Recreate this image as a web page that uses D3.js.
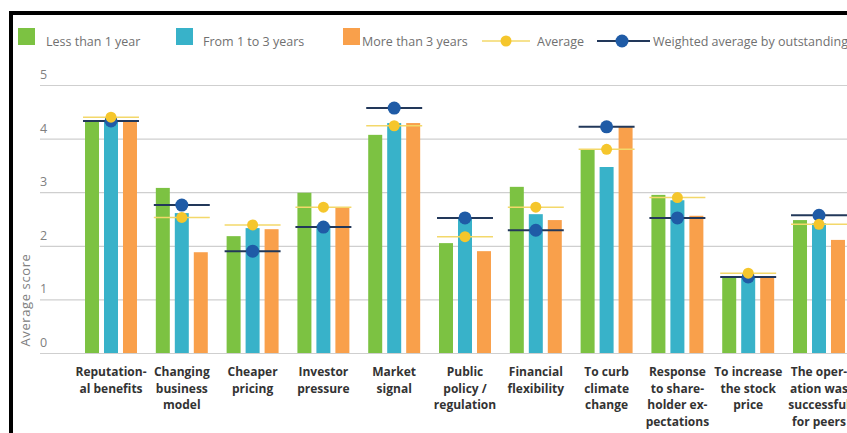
<!DOCTYPE html>
<html>
<head>
<meta charset="utf-8">
<script src="https://cdn.jsdelivr.net/npm/d3@7"></script>
<style>
  body { margin: 0; background: #fff; overflow: hidden; }
  svg { display: block; }
</style>
</head>
<body>
<div id="chart"></div>
<script>
// categories (multi-line labels)
const categories = [
    ['Reputation-', 'al benefits'],
    ['Changing', 'business', 'model'],
    ['Cheaper', 'pricing'],
    ['Investor', 'pressure'],
    ['Market', 'signal'],
    ['Public', 'policy /', 'regulation'],
    ['Financial', 'flexibility'],
    ['To curb', 'climate', 'change'],
    ['Response', 'to share-', 'holder ex-', 'pectations'],
    ['To increase', 'the stock', 'price'],
    ['The oper-', 'ation was', 'successful', 'for peers']
];
const seriesNames = ['Less than 1 year', 'From 1 to 3 years', 'More than 3 years'];

const lessThan1 = [4.32, 3.08, 2.18, 2.99, 4.07, 2.05, 3.10, 3.80, 2.95, 1.42, 2.48];
const from1to3  = [4.31, 2.61, 2.33, 2.38, 4.29, 2.50, 2.59, 3.47, 2.85, 1.40, 2.42];
const moreThan3 = [4.32, 1.88, 2.31, 2.71, 4.29, 1.90, 2.48, 4.22, 2.56, 1.42, 2.11];
const average   = [4.40, 2.53, 2.39, 2.72, 4.24, 2.17, 2.72, 3.80, 2.90, 1.49, 2.40];
const weighted  = [4.33, 2.76, 1.90, 2.35, 4.57, 2.52, 2.29, 4.22, 2.52, 1.42, 2.57];

const yTicks = [0, 1, 2, 3, 4, 5];

const colors = ['#7cc242', '#38b2c9', '#f9a04b'];
const avgColor = '#f5c62c', avgLine = '#f3d86a';
const wColor = '#1f5ba6', wLine = '#22385a';

const width = 847, height = 433;

const svg = d3.select('#chart')
    .append('svg')
    .attr('width', width)
    .attr('height', height);

// frame (cropped screenshot border)
svg.append('rect').attr('x', 9).attr('y', 11).attr('width', 900).attr('height', 4).attr('fill', '#000');
svg.append('rect').attr('x', 9).attr('y', 11).attr('width', 4).attr('height', 430).attr('fill', '#000');

const y = d3.scaleLinear().domain([0, 5]).range([353, 85]);

const x0 = d3.scaleBand()
    .domain(d3.range(categories.length))
    .range([75.6, 75.6 + 11 * 70.8])
    .paddingInner(0.266)
    .paddingOuter(0.133);

const x1 = d3.scaleBand()
    .domain(d3.range(3))
    .range([0, x0.bandwidth()])
    .paddingInner(0.263);

// grid + tick labels
const grid = svg.append('g');
grid.selectAll('line')
    .data(yTicks)
    .enter().append('line')
    .attr('x1', 40).attr('x2', width)
    .attr('y1', d => y(d) + 0.5).attr('y2', d => y(d) + 0.5)
    .attr('stroke', '#cfcfcf')
    .attr('stroke-width', 1.2);
grid.selectAll('text')
    .data(yTicks)
    .enter().append('text')
    .attr('x', 40)
    .attr('y', d => y(d) - 6)
    .attr('font-family', 'Open Sans, sans-serif')
    .attr('font-size', 12.5)
    .attr('fill', '#808080')
    .text(d => d);

svg.append('text')
    .attr('transform', 'translate(30,300) rotate(-90)')
    .attr('text-anchor', 'middle')
    .attr('font-family', 'Open Sans, sans-serif')
    .attr('font-size', 13)
    .attr('letter-spacing', 0.6)
    .attr('fill', '#808080')
    .text('Average score');

// bars
const seriesData = [lessThan1, from1to3, moreThan3];
const groups = svg.append('g').selectAll('g')
    .data(categories.map((c, i) => i))
    .enter().append('g')
    .attr('transform', i => `translate(${x0(i)},0)`);

groups.selectAll('rect')
    .data(i => seriesData.map((s, k) => ({ k, v: s[i] })))
    .enter().append('rect')
    .attr('x', d => x1(d.k))
    .attr('y', d => y(d.v))
    .attr('width', x1.bandwidth())
    .attr('height', d => y(0) - y(d.v))
    .attr('fill', d => colors[d.k]);

// weighted average markers
groups.append('line')
    .attr('x1', -2).attr('x2', x0.bandwidth() + 2)
    .attr('y1', i => y(weighted[i])).attr('y2', i => y(weighted[i]))
    .attr('stroke', wLine).attr('stroke-width', 2);
groups.append('circle')
    .attr('cx', x0.bandwidth() / 2)
    .attr('cy', i => y(weighted[i]))
    .attr('r', 6.5)
    .attr('fill', wColor);

// average markers
groups.append('line')
    .attr('x1', -2).attr('x2', x0.bandwidth() + 2)
    .attr('y1', i => y(average[i])).attr('y2', i => y(average[i]))
    .attr('stroke', avgLine).attr('stroke-width', 1.5);
groups.append('circle')
    .attr('cx', x0.bandwidth() / 2)
    .attr('cy', i => y(average[i]))
    .attr('r', 5.5)
    .attr('fill', avgColor);

// category labels
groups.append('text')
    .attr('text-anchor', 'middle')
    .attr('font-family', 'Open Sans, sans-serif')
    .attr('font-weight', 700)
    .attr('font-size', 12)
    .attr('fill', '#333')
    .each(function (i) {
        d3.select(this).selectAll('tspan')
            .data(categories[i])
            .enter().append('tspan')
            .attr('x', x0.bandwidth() / 2)
            .attr('y', (d, j) => 376 + j * 16.5)
            .text(d => d);
    });

// legend
const legend = svg.append('g')
    .attr('font-family', 'Open Sans, sans-serif')
    .attr('font-size', 12.5)
    .attr('fill', '#707070');
const swatchX = [18, 176, 343];
const textX = [46, 203, 362];
seriesNames.forEach((n, k) => {
    legend.append('rect')
        .attr('x', swatchX[k]).attr('y', 28)
        .attr('width', 17).attr('height', 17)
        .attr('fill', colors[k]);
    legend.append('text')
        .attr('x', textX[k]).attr('y', 46)
        .text(n);
});
legend.append('line').attr('x1', 482).attr('x2', 530).attr('y1', 41).attr('y2', 41)
    .attr('stroke', avgLine).attr('stroke-width', 1.5);
legend.append('circle').attr('cx', 506).attr('cy', 41).attr('r', 5.5).attr('fill', avgColor);
legend.append('text').attr('x', 537).attr('y', 46).text('Average');
legend.append('line').attr('x1', 597).attr('x2', 650).attr('y1', 41).attr('y2', 41)
    .attr('stroke', wLine).attr('stroke-width', 2);
legend.append('circle').attr('cx', 622).attr('cy', 41).attr('r', 6.5).attr('fill', wColor);
legend.append('text').attr('x', 653).attr('y', 46).text('Weighted average by outstanding');
</script>
</body>
</html>
